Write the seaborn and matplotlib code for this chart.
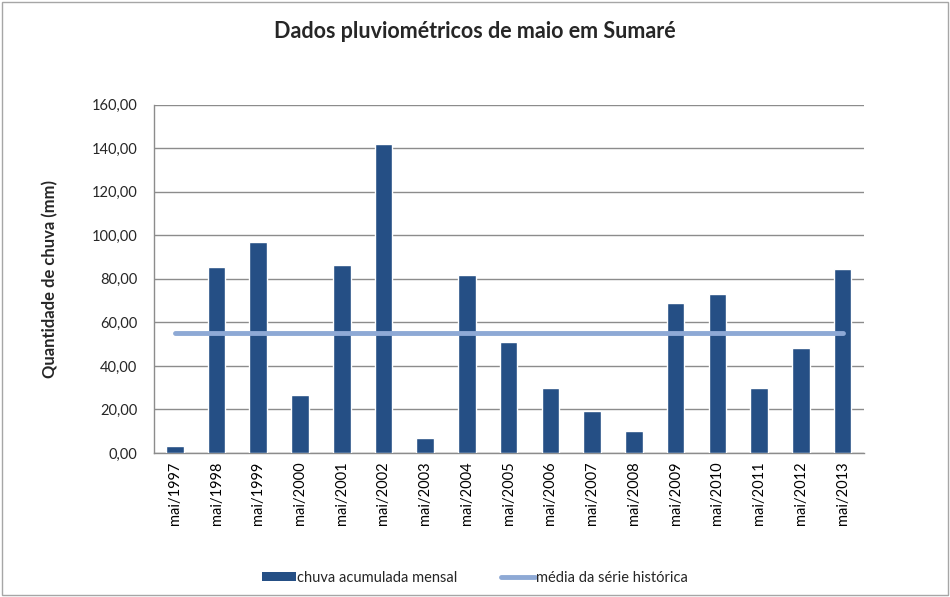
import matplotlib
matplotlib.use("Agg")
import matplotlib.pyplot as plt
import matplotlib.ticker as mticker
from matplotlib.patches import Rectangle
from matplotlib.lines import Line2D
from matplotlib.patches import Patch
import seaborn as sns
import pandas as pd

categories = ["mai/1997", "mai/1998", "mai/1999", "mai/2000", "mai/2001", "mai/2002",
              "mai/2003", "mai/2004", "mai/2005", "mai/2006", "mai/2007", "mai/2008",
              "mai/2009", "mai/2010", "mai/2011", "mai/2012", "mai/2013"]
chuva = [3.2, 85.4, 96.9, 26.6, 86.4, 142.0, 6.9, 81.8, 51.0, 29.9, 19.4, 10.1,
         68.9, 73.0, 29.9, 48.2, 84.5]
media = [55.1] * len(categories)

sns.set_theme(style="white")
plt.rcParams["font.family"] = ["Lato", "DejaVu Sans"]

fig = plt.figure(figsize=(9.5, 5.97), dpi=100)
ax = fig.add_axes([0.162, 0.2412, 0.747, 0.5834])

df = pd.DataFrame({"cat": categories, "chuva": chuva, "media": media})
sns.barplot(data=df, x="cat", y="chuva", color="#254F85", width=0.42,
            saturation=1, ax=ax, zorder=3)
ax.plot(range(len(categories)), df["media"], color="#8EA9D5", lw=3.5,
        solid_capstyle="round", zorder=4)

ax.set_ylim(0, 160)
ax.set_xlim(-0.5, len(categories) - 0.5)
ax.yaxis.set_major_locator(mticker.MultipleLocator(20))
ax.yaxis.set_major_formatter(mticker.FuncFormatter(lambda v, p: f"{v:.2f}".replace(".", ",")))
ax.grid(axis="y", color="#8C8C8C", lw=1, zorder=0)
ax.set_axisbelow(True)
for s in ["top", "right"]:
    ax.spines[s].set_visible(False)
for s in ["left", "bottom"]:
    ax.spines[s].set_color("#8C8C8C")
    ax.spines[s].set_linewidth(1)

ax.tick_params(axis="x", rotation=90, labelsize=10.5, colors="#000000", length=0, pad=6)
ax.tick_params(axis="y", labelsize=10.5, length=0, pad=12)
ax.set_xlabel("")
ax.set_ylabel("Quantidade de chuva (mm)", fontsize=12, fontweight="bold", labelpad=24)

fig.text(0.5, 0.948, "Dados pluviométricos de maio em Sumaré", ha="center", va="center",
         fontsize=15.5, fontweight="bold")

handles = [Patch(facecolor="#254F85", edgecolor="none"),
           Line2D([0], [0], color="#8EA9D5", lw=3.5, solid_capstyle="round")]
fig.legend(handles, ["chuva acumulada mensal", "média da série histórica"],
           loc="center", bbox_to_anchor=(0.5, 0.032), ncol=2, frameon=False,
           fontsize=10.5, handlelength=2.3, handleheight=0.6, handletextpad=0.1, columnspacing=3.0)

fig.patches.append(Rectangle((0.002, 0.003), 0.996, 0.994, transform=fig.transFigure,
                             fill=False, edgecolor="#A6A6A6", lw=1))

fig.savefig("out.png", dpi=100)
